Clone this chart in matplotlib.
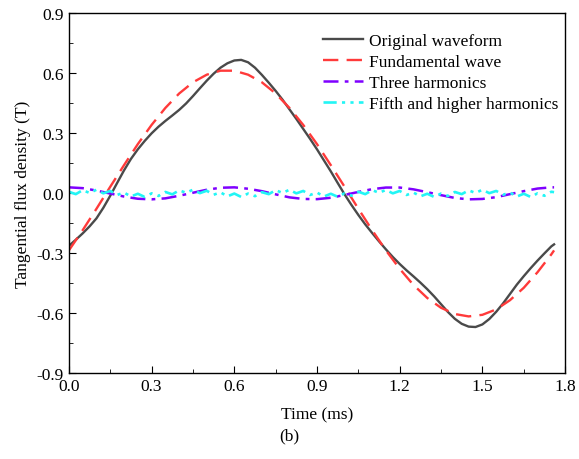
import numpy as np
import matplotlib
matplotlib.use("Agg")
import matplotlib.pyplot as plt
from matplotlib.ticker import MultipleLocator, FormatStrFormatter

# original waveform, read every 0.025 ms
t_orig = [0.000, 0.025, 0.050, 0.075, 0.100, 0.125, 0.150, 0.175, 0.200, 0.225,
          0.250, 0.275, 0.300, 0.325, 0.350, 0.375, 0.400, 0.425, 0.450, 0.475,
          0.500, 0.525, 0.550, 0.575, 0.600, 0.625, 0.650, 0.675, 0.700, 0.725,
          0.750, 0.775, 0.800, 0.825, 0.850, 0.875, 0.900, 0.925, 0.950, 0.975,
          1.000, 1.025, 1.050, 1.075, 1.100, 1.125, 1.150, 1.175, 1.200, 1.225,
          1.250, 1.275, 1.300, 1.325, 1.350, 1.375, 1.400, 1.425, 1.450, 1.475,
          1.500, 1.525, 1.550, 1.575, 1.600, 1.625, 1.650, 1.675, 1.700, 1.725,
          1.750, 1.760]
b_orig = [-0.262, -0.232, -0.200, -0.165, -0.125, -0.072, -0.012, 0.052, 0.115, 0.172,
          0.220, 0.262, 0.300, 0.333, 0.362, 0.389, 0.417, 0.449, 0.486, 0.525,
          0.563, 0.598, 0.628, 0.650, 0.664, 0.667, 0.655, 0.628, 0.592, 0.553,
          0.512, 0.468, 0.420, 0.372, 0.322, 0.272, 0.220, 0.165, 0.110, 0.052,
          -0.005, -0.058, -0.108, -0.155, -0.198, -0.240, -0.280, -0.318, -0.353, -0.385,
          -0.415, -0.446, -0.479, -0.515, -0.554, -0.593, -0.627, -0.652, -0.666, -0.668,
          -0.655, -0.628, -0.592, -0.550, -0.503, -0.456, -0.414, -0.374, -0.336, -0.300,
          -0.265, -0.255]

# fundamental and third harmonic, read every 0.05 ms
t_harm = [0.00, 0.05, 0.10, 0.15, 0.20, 0.25, 0.30, 0.35, 0.40, 0.45,
          0.50, 0.55, 0.60, 0.65, 0.70, 0.75, 0.80, 0.85, 0.90, 0.95,
          1.00, 1.05, 1.10, 1.15, 1.20, 1.25, 1.30, 1.35, 1.40, 1.45,
          1.50, 1.55, 1.60, 1.65, 1.70, 1.75, 1.76]
b_fund = [-0.285, -0.184, -0.077, 0.033, 0.141, 0.246, 0.342, 0.427, 0.499, 0.555,
          0.593, 0.613, 0.613, 0.593, 0.555, 0.499, 0.427, 0.342, 0.246, 0.141,
          0.033, -0.077, -0.184, -0.285, -0.377, -0.458, -0.523, -0.572, -0.603, -0.615,
          -0.607, -0.580, -0.534, -0.472, -0.394, -0.305, -0.285]
b_third = [0.030, 0.026, 0.014, -0.001, -0.016, -0.027, -0.030, -0.025, -0.012, 0.003,
           0.018, 0.028, 0.030, 0.023, 0.011, -0.005, -0.020, -0.028, -0.029, -0.022,
           -0.008, 0.007, 0.021, 0.029, 0.029, 0.020, 0.006, -0.009, -0.023, -0.030,
           -0.028, -0.019, -0.004, 0.011, 0.024, 0.030, 0.030]

# fifth and higher harmonics, read every 0.025 ms (same time grid as original)
b_fifth = [0.008, -0.004, 0.016, 0.002, 0.018, 0.000, 0.012, -0.008, 0.004, -0.016,
           -0.002, -0.018, 0.000, -0.013, 0.007, -0.005, 0.015, 0.003, 0.018, 0.001,
           0.013, -0.007, 0.005, -0.015, -0.001, -0.018, -0.001, -0.014, 0.006, -0.004,
           0.016, 0.002, 0.018, 0.000, 0.012, -0.008, 0.004, -0.016, -0.002, -0.017,
           0.000, -0.012, 0.008, -0.004, 0.016, 0.003, 0.017, 0.000, 0.012, -0.008,
           0.004, -0.015, -0.002, -0.018, -0.001, -0.013, 0.007, -0.004, 0.015, 0.002,
           0.018, 0.001, 0.012, -0.007, 0.004, -0.016, -0.002, -0.018, 0.000, -0.012,
           0.008, 0.006]

plt.rcParams['font.family'] = ['Liberation Serif', 'DejaVu Serif']
plt.rcParams['font.size'] = 12.5

fig = plt.figure(figsize=(5.79, 4.6), dpi=100)
ax = fig.add_axes([0.119, 0.186, 0.857, 0.783])

ax.plot(t_orig, b_orig, color='#4a4a4a', lw=1.7, label='Original waveform')
ax.plot(t_harm, b_fund, color='#ff3a3a', lw=1.7, ls=(0, (6.5, 3.5)), label='Fundamental wave')
ax.plot(t_harm, b_third, color='#7f00ff', lw=1.8, ls=(0, (6, 2.5, 1.5, 2.5)), label='Three harmonics')
ax.plot(t_orig, b_fifth, color='#22f5f5', lw=1.9, ls=(0, (5, 2, 1.2, 2, 1.2, 2)),
        label='Fifth and higher harmonics')

ax.set_xlim(0, 1.8)
ax.set_ylim(-0.9, 0.9)
ax.xaxis.set_major_locator(MultipleLocator(0.3))
ax.xaxis.set_minor_locator(MultipleLocator(0.15))
ax.yaxis.set_major_locator(MultipleLocator(0.3))
ax.yaxis.set_minor_locator(MultipleLocator(0.15))
ax.xaxis.set_major_formatter(FormatStrFormatter('%.1f'))
ax.yaxis.set_major_formatter(FormatStrFormatter('%.1f'))
ax.tick_params(which='both', direction='in', top=False, right=False)
ax.tick_params(which='major', length=5)
ax.tick_params(which='minor', length=3)
for s in ax.spines.values():
    s.set_linewidth(1.0)

ax.set_xlabel('Time (ms)', labelpad=9)
ax.set_ylabel('Tangential flux density (T)')
fig.text(0.5, 0.052, '(b)', ha='center', va='center', fontsize=12.5)

ax.legend(loc='upper right', frameon=False, fontsize=12.5, handlelength=2.3,
          handletextpad=0.3, labelspacing=0.28, bbox_to_anchor=(1.017, 0.99))

fig.savefig('out.png', dpi=100)
